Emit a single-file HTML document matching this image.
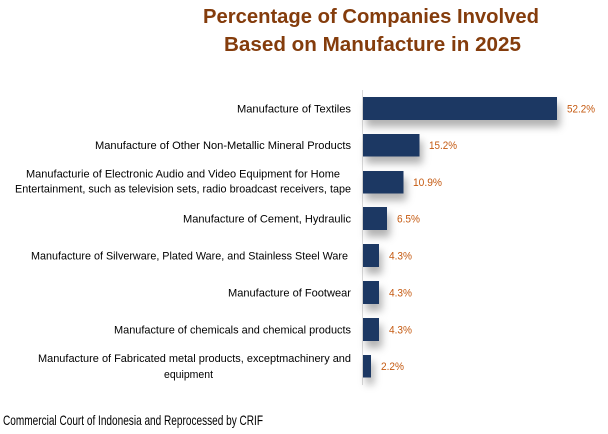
<!DOCTYPE html>
<html>
<head>
<meta charset="utf-8">
<style>
html,body{margin:0;padding:0;background:#fff;}
svg{display:block;}
text{font-family:"Liberation Sans",sans-serif;}
</style>
</head>
<body>
<svg width="608" height="434" viewBox="0 0 608 434" xmlns="http://www.w3.org/2000/svg">
<defs>
<filter id="sh" x="-30%" y="-60%" width="170%" height="300%">
<feDropShadow dx="3" dy="7" stdDeviation="4" flood-color="#000" flood-opacity="0.3"/>
</filter>
</defs>
<rect width="608" height="434" fill="#fff"/>
<!-- Title -->
<text x="371" y="23" font-size="20" font-weight="bold" fill="#843c0c" text-anchor="middle" textLength="336" lengthAdjust="spacingAndGlyphs">Percentage of Companies Involved</text>
<text x="372.5" y="51" font-size="20" font-weight="bold" fill="#843c0c" text-anchor="middle" textLength="297" lengthAdjust="spacingAndGlyphs">Based on Manufacture in 2025</text>

<!-- axis -->
<line x1="362.5" y1="90" x2="362.5" y2="385" stroke="#d9d9d9" stroke-width="1"/>

<!-- bars -->
<g fill="#1f3864" filter="url(#sh)">
<rect x="363" y="97" width="194" height="23"/>
<rect x="363" y="134" width="56.5" height="22.5"/>
<rect x="363" y="171" width="40.5" height="22.5"/>
<rect x="363" y="207" width="24" height="23"/>
<rect x="363" y="244" width="16" height="23"/>
<rect x="363" y="281" width="16" height="23"/>
<rect x="363" y="318" width="16" height="23"/>
<rect x="363" y="355" width="8" height="22.5"/>
</g>

<!-- data labels -->
<g font-size="11" fill="#c55a11">
<text x="567" y="112.5" textLength="28" lengthAdjust="spacingAndGlyphs">52.2%</text>
<text x="429" y="149" textLength="28" lengthAdjust="spacingAndGlyphs">15.2%</text>
<text x="413" y="186" textLength="29" lengthAdjust="spacingAndGlyphs">10.9%</text>
<text x="397" y="222.5" textLength="23" lengthAdjust="spacingAndGlyphs">6.5%</text>
<text x="389" y="259.5" textLength="23" lengthAdjust="spacingAndGlyphs">4.3%</text>
<text x="389" y="296.5" textLength="23" lengthAdjust="spacingAndGlyphs">4.3%</text>
<text x="389" y="333.5" textLength="23" lengthAdjust="spacingAndGlyphs">4.3%</text>
<text x="381" y="370" textLength="23" lengthAdjust="spacingAndGlyphs">2.2%</text>
</g>

<!-- category labels -->
<g font-size="11" fill="#000">
<text x="237" y="112.5" textLength="114" lengthAdjust="spacingAndGlyphs">Manufacture of Textiles</text>
<text x="95" y="149" textLength="256" lengthAdjust="spacingAndGlyphs">Manufacture of Other Non-Metallic Mineral Products</text>
<text x="26" y="177.5" textLength="314" lengthAdjust="spacingAndGlyphs">Manufacturie of Electronic Audio and Video Equipment for Home</text>
<text x="15" y="192.5" textLength="336" lengthAdjust="spacingAndGlyphs">Entertainment, such as television sets, radio broadcast receivers, tape</text>
<text x="183" y="222.5" textLength="168" lengthAdjust="spacingAndGlyphs">Manufacture of Cement, Hydraulic</text>
<text x="31" y="259.5" textLength="317" lengthAdjust="spacingAndGlyphs">Manufacture of Silverware, Plated Ware, and Stainless Steel Ware</text>
<text x="228" y="296.5" textLength="123" lengthAdjust="spacingAndGlyphs">Manufacture of Footwear</text>
<text x="114" y="333.5" textLength="237" lengthAdjust="spacingAndGlyphs">Manufacture of chemicals and chemical products</text>
<text x="38" y="362" textLength="313" lengthAdjust="spacingAndGlyphs">Manufacture of Fabricated metal products, exceptmachinery and</text>
<text x="164" y="378" textLength="49" lengthAdjust="spacingAndGlyphs">equipment</text>
</g>

<!-- footer -->
<text x="3" y="425" font-size="14" fill="#000" style="font-family:'Liberation Sans Narrow','Liberation Sans',sans-serif" textLength="260" lengthAdjust="spacingAndGlyphs">Commercial Court of Indonesia and Reprocessed by CRIF</text>
</svg>
</body>
</html>
